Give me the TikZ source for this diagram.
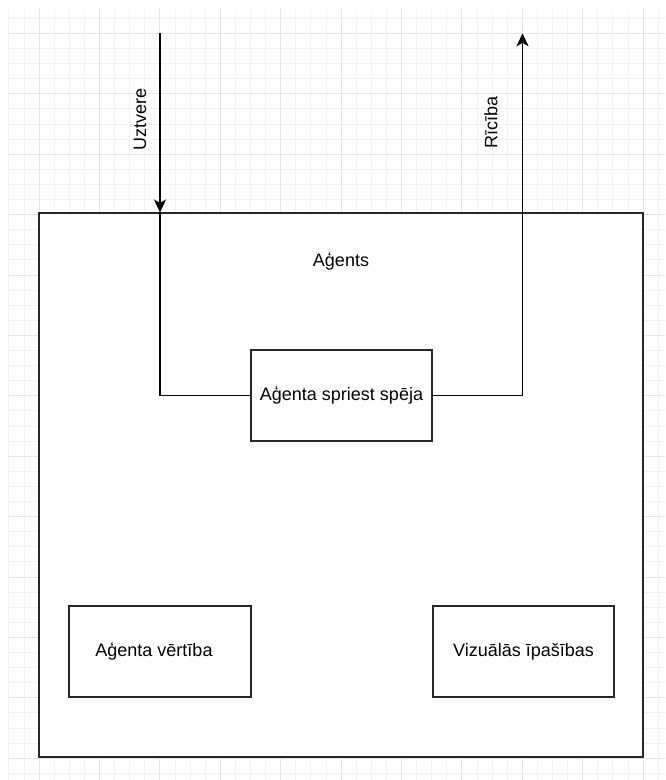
\documentclass[tikz,border=0pt]{standalone}
\usepackage{fontspec}
\setmainfont{Liberation Sans}
\usetikzlibrary{arrows.meta}

\tikzset{
  gridminor/.style={draw=black!5, line width=0.8pt},
  gridmajor/.style={draw=black!10, line width=0.8pt},
  box/.style={draw=black!85, line width=1.1pt, inner sep=0pt,
    minimum width=181pt, minimum height=91pt,
    font=\fontsize{18}{22}\selectfont},
  lbl/.style={font=\fontsize{18}{22}\selectfont, inner sep=0pt},
  conn/.style={line width=1.2pt},
  arr/.style={conn, -{Stealth[length=13pt, width=12pt, inset=3.5pt]}}
}

\begin{document}
\begin{tikzpicture}[x=1pt, y=-1pt]
  \useasboundingbox (0,0) rectangle (665,780);
  \fill[white] (0,0) rectangle (665,780);

  % background grid
  \begin{scope}
    \clip (8,9) rectangle (665,780);
    \foreach \k in {-2,...,41} {
      \pgfmathsetmacro{\gx}{39+15.1*\k}
      \draw[gridminor] (\gx,0) -- (\gx,780);
    }
    \foreach \k in {-1,...,49} {
      \pgfmathsetmacro{\gy}{33.3+15.1*\k}
      \draw[gridminor] (0,\gy) -- (665,\gy);
    }
    \foreach \k in {0,...,10} {
      \pgfmathsetmacro{\gx}{39+60.4*\k}
      \draw[gridmajor] (\gx,0) -- (\gx,780);
    }
    \foreach \k in {0,...,12} {
      \pgfmathsetmacro{\gy}{33.3+60.4*\k}
      \draw[gridmajor] (0,\gy) -- (665,\gy);
    }
  \end{scope}

  % agent and its parts
  \node[box, fill=white, minimum width=604pt, minimum height=544pt] (agents) at (341,485) {};
  \node[lbl] (agentstitle) at (341,261) {Aģents};
  \node[box, fill=white] (spriest) at (341.5,395.5) {Aģenta spriest spēja};
  \node[box, fill=white, minimum width=182pt] (vertiba) at (160,651.5) {Aģenta vērtība\hspace*{12pt}};
  \node[box, fill=white] (vizual) at (523.5,651.5) {Vizuālās īpašības};

  % percept and action
  \coordinate (uzt) at (160,33.3);
  \coordinate (ric) at (522.5,33.3);
  \draw[arr] (uzt) -- (uzt |- agents.north);
  \draw[conn] (uzt |- agents.north) |- (spriest.west);
  \draw[arr] (spriest.east) -| (ric);

  \node[lbl, rotate=90] (uztlbl) at (140,119) {Uztvere};
  \node[lbl, rotate=90] (riclbl) at (491,122) {Rīcība};
\end{tikzpicture}
\end{document}
